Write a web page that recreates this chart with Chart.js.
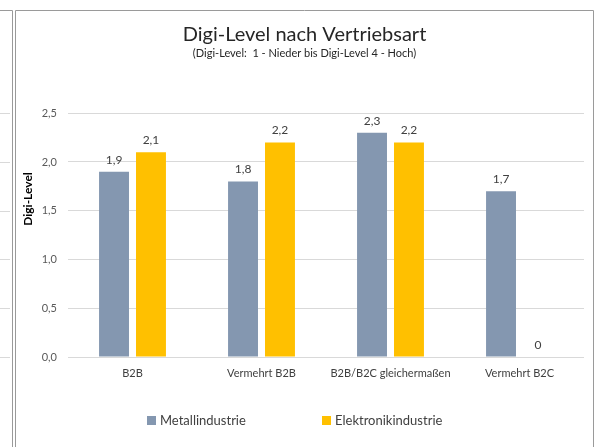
<!DOCTYPE html>
<html>
<head>
<meta charset="utf-8">
<script src="https://cdn.jsdelivr.net/npm/chart.js"></script>
<style>
  body { margin: 0; background: #fff; }
  #wrap { position: relative; width: 603px; height: 447px; }
</style>
</head>
<body>
<div id="wrap"><canvas id="digiChart"></canvas></div>
<script>
// Daten aus dem Diagramm
var kategorien = ["B2B", "Vermehrt B2B", "B2B/B2C gleichermaßen", "Vermehrt B2C"];
var metall = [1.9, 1.8, 2.3, 1.7];
var elektronik = [2.1, 2.2, 2.2, 0];
var yTicks = [0, 0.5, 1, 1.5, 2, 2.5];
var serienNamen = ["Metallindustrie", "Elektronikindustrie"];
var titel = "Digi-Level nach Vertriebsart";
var untertitel = "(Digi-Level:  1 - Nieder bis Digi-Level 4 - Hoch)";
var yTitel = "Digi-Level";

var farben = ["#8497B0", "#FFC000"];

Chart.defaults.font.family = "Lato, 'Open Sans', sans-serif";

function komma(v) {
  if (v === 0) return "0";
  return v.toFixed(1).replace(".", ",");
}

// Rahmen + Reste vom Nachbardiagramm links
var rahmenPlugin = {
  id: "rahmen",
  beforeDraw: function (chart) {
    var c = chart.ctx, y = chart.scales.y;
    c.save();
    c.strokeStyle = "#d9d9d9";
    c.lineWidth = 1;
    yTicks.forEach(function (v) {
      var py = Math.round(y.getPixelForValue(v)) + 0.5;
      c.beginPath(); c.moveTo(0, py); c.lineTo(10, py); c.stroke();
    });
    c.strokeStyle = "#9a9a9a";
    c.beginPath();
    c.moveTo(0, 10.5); c.lineTo(12.5, 10.5); c.lineTo(12.5, 447);
    c.moveTo(15.5, 447); c.lineTo(15.5, 10.5); c.lineTo(593.5, 10.5); c.lineTo(593.5, 447);
    c.stroke();
    c.restore();
  }
};

// Werte über den Balken, Achsentitel, Legende
var beschriftungPlugin = {
  id: "beschriftung",
  afterDatasetsDraw: function (chart) {
    var c = chart.ctx;
    c.save();
    c.font = "12px Lato";
    c.fillStyle = "#404040";
    c.textAlign = "center";
    c.textBaseline = "middle";
    chart.data.datasets.forEach(function (ds, i) {
      chart.getDatasetMeta(i).data.forEach(function (bar, j) {
        c.fillText(komma(ds.data[j]), bar.x, bar.y - 12);
      });
    });

    // y-Achsentitel
    c.save();
    c.translate(28.5, 199);
    c.rotate(-Math.PI / 2);
    c.font = "bold 12px Lato";
    c.fillStyle = "#000";
    c.fillText(yTitel, 0, 0);
    c.restore();

    // Legende
    var lx = [147, 322];
    c.font = "13px Lato";
    c.textAlign = "left";
    serienNamen.forEach(function (name, i) {
      c.fillStyle = farben[i];
      c.fillRect(lx[i], 416, 9, 9);
      c.fillStyle = "#404040";
      c.fillText(name, lx[i] + 13, 421);
    });
    c.restore();
  }
};

var ctx = document.getElementById("digiChart").getContext("2d");
var digiChart = new Chart(ctx, {
  type: "bar",
  data: {
    labels: kategorien,
    datasets: [
      { label: serienNamen[0], data: metall, backgroundColor: farben[0] },
      { label: serienNamen[1], data: elektronik, backgroundColor: farben[1] }
    ]
  },
  options: {
    responsive: true,
    maintainAspectRatio: false,
    animation: false,
    categoryPercentage: 0.573,
    barPercentage: 0.81,
    layout: { padding: { left: 25, right: 19, top: 10, bottom: 60 } },
    scales: {
      x: {
        grid: { display: false },
        border: { display: false },
        afterFit: function (s) { s.height = 30; },
        ticks: { color: "#404040", font: { size: 11 }, padding: 2, maxRotation: 0 }
      },
      y: {
        min: 0,
        max: 2.5,
        afterBuildTicks: function (s) {
          s.ticks = yTicks.map(function (v) { return { value: v }; });
        },
        afterFit: function (s) { s.width = 43; },
        grid: { color: "#d9d9d9", drawTicks: false },
        border: { display: false },
        ticks: {
          color: "#595959",
          font: { size: 11 },
          padding: 11,
          callback: function (v) { return v.toFixed(1).replace(".", ","); }
        }
      }
    },
    plugins: {
      legend: { display: false },
      tooltip: { enabled: false },
      title: {
        display: true,
        text: titel,
        color: "#262626",
        font: { size: 20, weight: "normal" },
        padding: { top: 13, bottom: 0 }
      },
      subtitle: {
        display: true,
        text: untertitel,
        color: "#262626",
        font: { size: 11 },
        padding: { top: 0, bottom: 53 }
      }
    }
  },
  plugins: [rahmenPlugin, beschriftungPlugin]
});
</script>
</body>
</html>
